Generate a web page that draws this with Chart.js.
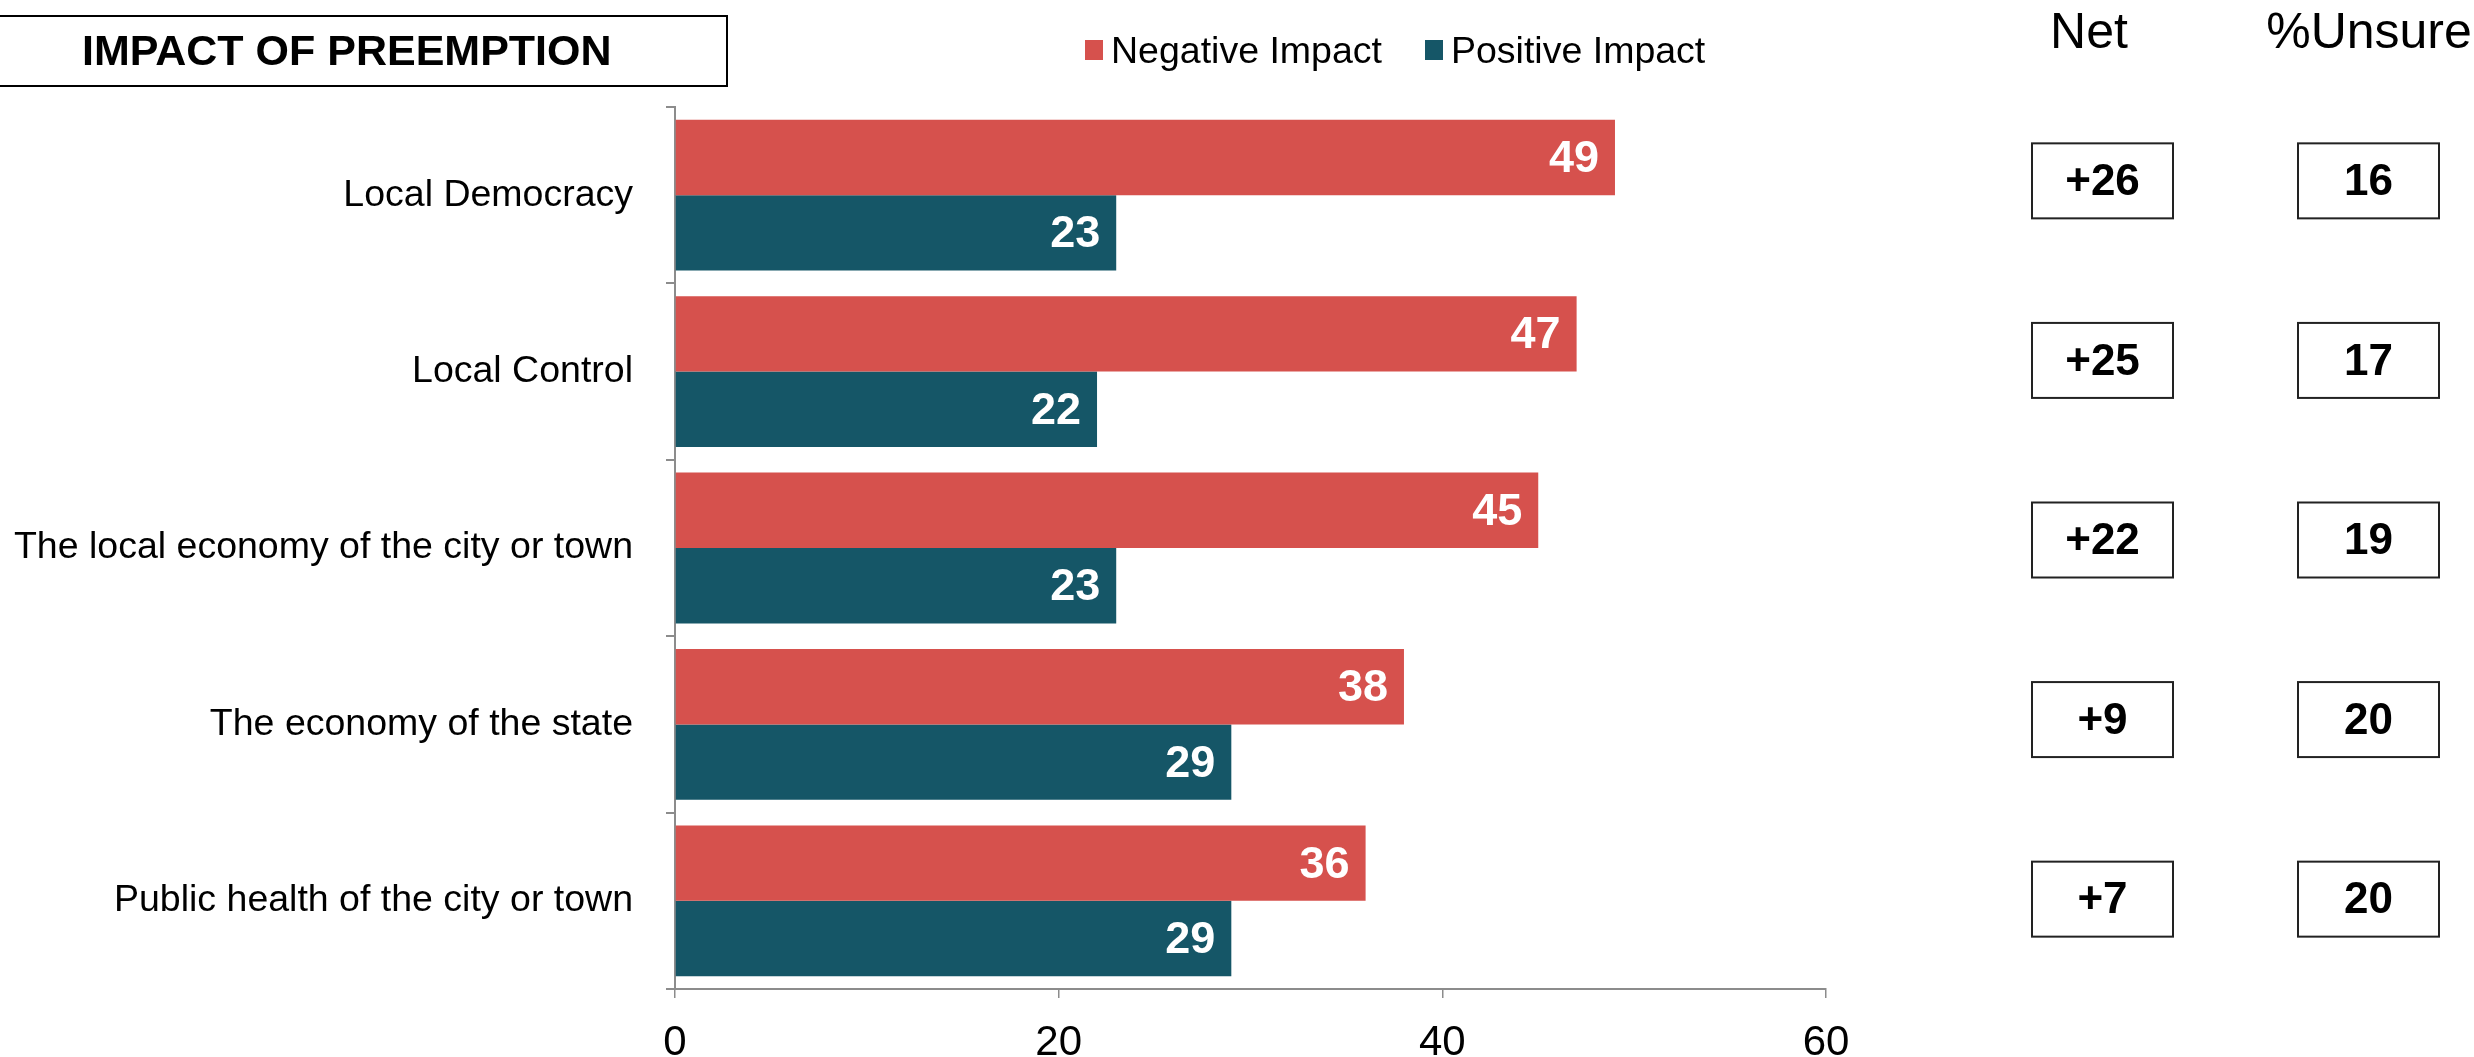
<!DOCTYPE html>
<html>
<head>
<meta charset="utf-8">
<title>Impact of Preemption</title>
<script src="https://cdn.jsdelivr.net/npm/chart.js@4.4.1/dist/chart.umd.min.js"></script>
<style>
  html, body { margin: 0; padding: 0; background: #ffffff; }
  canvas { display: block; }
</style>
</head>
<body>
<canvas id="chart" width="2474" height="1057"></canvas>
<script>
// Survey items and shares (%)
const categories = [
  'Local Democracy',
  'Local Control',
  'The local economy of the city or town',
  'The economy of the state',
  'Public health of the city or town'
];
const negativeImpact = [49, 47, 45, 38, 36];
const positiveImpact = [23, 22, 23, 29, 29];
const netValues = ['+26', '+25', '+22', '+9', '+7'];
const unsureValues = ['16', '17', '19', '20', '20'];
const xTickValues = [0, 20, 40, 60];

const chartTitle = 'IMPACT OF PREEMPTION';
const seriesNames = ['Negative Impact', 'Positive Impact'];
const columnHeaders = ['Net', '%Unsure'];

const RED = '#d6514d';
const TEAL = '#155667';
const AXIS = '#8c8c8c';
const FONT = '"Liberation Sans", Arial, Helvetica, sans-serif';

// Boxed title in the top-left corner
const titleBox = {
  id: 'titleBox',
  afterDraw(chart) {
    const ctx = chart.ctx;
    ctx.save();
    ctx.strokeStyle = '#000';
    ctx.lineWidth = 2;
    ctx.strokeRect(-2, 16, 729, 70);
    ctx.fillStyle = '#000';
    ctx.font = 'bold 43px ' + FONT;
    ctx.textAlign = 'left';
    ctx.textBaseline = 'middle';
    ctx.fillText(chartTitle, 82, 53);
    ctx.restore();
  }
};

// Legend drawn above the plot from the datasets
const topLegend = {
  id: 'topLegend',
  afterDraw(chart) {
    const ctx = chart.ctx;
    const xs = [1085, 1425];
    ctx.save();
    ctx.font = '37.5px ' + FONT;
    ctx.textBaseline = 'middle';
    ctx.textAlign = 'left';
    chart.data.datasets.forEach((ds, i) => {
      ctx.fillStyle = ds.backgroundColor;
      ctx.fillRect(xs[i], 40, 18, 20);
      ctx.fillStyle = '#000';
      ctx.fillText(ds.label, xs[i] + 26, 53);
    });
    ctx.restore();
  }
};

// White value labels inside the end of each bar
const barValues = {
  id: 'barValues',
  afterDatasetsDraw(chart) {
    const ctx = chart.ctx;
    ctx.save();
    ctx.font = 'bold 45px ' + FONT;
    ctx.fillStyle = '#fff';
    ctx.textAlign = 'right';
    ctx.textBaseline = 'middle';
    chart.data.datasets.forEach((ds, di) => {
      chart.getDatasetMeta(di).data.forEach((bar, i) => {
        ctx.fillText(String(ds.data[i]), bar.x - 16, bar.y + 2);
      });
    });
    ctx.restore();
  }
};

// Net and %Unsure columns on the right, one boxed value per row
const sideColumns = {
  id: 'sideColumns',
  afterDraw(chart) {
    const ctx = chart.ctx;
    const y = chart.scales.y;
    const mid = y.getPixelForValue(2);
    const cols = [
      { header: columnHeaders[0], headerX: 2089, left: 2032, values: netValues },
      { header: columnHeaders[1], headerX: 2369, left: 2298, values: unsureValues }
    ];
    const w = 141, h = 75;
    ctx.save();
    cols.forEach(col => {
      ctx.fillStyle = '#000';
      ctx.font = '50px ' + FONT;
      ctx.textAlign = 'center';
      ctx.textBaseline = 'alphabetic';
      ctx.fillText(col.header, col.headerX, 48);
      col.values.forEach((v, i) => {
        // the boxed column is spaced a touch wider than the bar rows
        const cy = mid + (y.getPixelForValue(i) - mid) * 1.018 - 8;
        ctx.strokeStyle = '#222';
        ctx.lineWidth = 2;
        ctx.strokeRect(col.left, cy - h / 2, w, h);
        ctx.fillStyle = '#000';
        ctx.font = 'bold 44px ' + FONT;
        ctx.textBaseline = 'middle';
        ctx.fillText(v, col.left + w / 2, cy + 2);
      });
    });
    ctx.restore();
  }
};

new Chart(document.getElementById('chart'), {
  type: 'bar',
  data: {
    labels: categories,
    datasets: [
      { label: seriesNames[0], data: negativeImpact, backgroundColor: RED },
      { label: seriesNames[1], data: positiveImpact, backgroundColor: TEAL }
    ]
  },
  options: {
    indexAxis: 'y',
    responsive: false,
    animation: false,
    devicePixelRatio: 1,
    categoryPercentage: 0.855,
    barPercentage: 1.0,
    layout: { padding: { top: 107, right: 648, left: 0, bottom: 0 } },
    plugins: {
      legend: { display: false },
      title: { display: false },
      tooltip: { enabled: false }
    },
    scales: {
      x: {
        min: 0,
        max: 60,
        afterBuildTicks(scale) { scale.ticks = xTickValues.map(v => ({ value: v })); },
        afterFit(scale) { scale.height = 68; },
        grid: { drawOnChartArea: false, drawTicks: true, tickLength: 9, color: AXIS, lineWidth: 1.5 },
        border: { display: true, color: AXIS, width: 2 },
        ticks: { color: '#000', font: { family: FONT, size: 42 }, padding: 20, maxRotation: 0 }
      },
      y: {
        afterFit(scale) { scale.width = 675; },
        grid: { drawOnChartArea: false, drawTicks: true, tickLength: 9, color: AXIS, lineWidth: 2, offset: true },
        border: { display: true, color: AXIS, width: 2 },
        ticks: { color: '#000', font: { family: FONT, size: 37.5 }, padding: 33 }
      }
    }
  },
  plugins: [titleBox, topLegend, barValues, sideColumns]
});
</script>
</body>
</html>
